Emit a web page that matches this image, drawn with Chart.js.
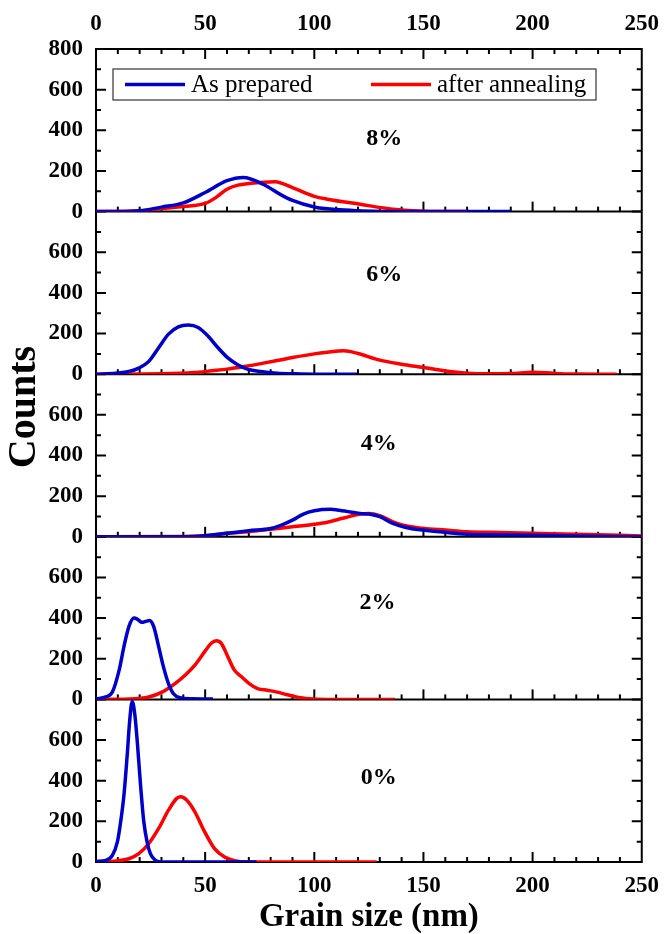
<!DOCTYPE html>
<html>
<head>
<meta charset="utf-8">
<script src="https://cdn.jsdelivr.net/npm/chart.js@4.4.1/dist/chart.umd.min.js"></script>
<style>
  body { margin: 0; background: #fff; }
  canvas { display: block; }
</style>
</head>
<body>
<canvas id="grainChart" width="670" height="934"></canvas>
<script>
// panels top to bottom
const panelNames = ['8%', '6%', '4%', '2%', '0%'];
const seriesNames = ['As prepared', 'after annealing'];

// 8%
const prep8X = [0, 10, 20, 30, 40, 50, 60, 67.5, 77, 85, 90, 100, 110, 120, 130, 140, 160, 190];
const prep8Y = [0, 0, 4, 22, 43, 94, 152, 168, 132, 81, 55, 23, 10, 4, 1, 0, 0, 0];
const ann8X = [0, 20, 30, 40, 50, 55, 60, 65, 70, 82, 90, 100, 106, 121, 136, 150, 170];
const ann8Y = [0, 3, 15, 25, 40, 70, 110, 130, 138, 147, 118, 75, 61, 36, 12, 2, 0];

// 6%
const prep6X = [0, 9, 15.1, 19.6, 24.2, 28.7, 33.2, 37.7, 42.3, 46.8, 51.3, 55.9, 60.4, 64.9, 69.4, 75.5, 83, 90.6, 100, 119.6];
const prep6Y = [0, 5, 13, 30, 63, 130, 197, 233, 242, 230, 188, 130, 80, 47, 25, 13, 5, 2, 0, 0];
const ann6X = [0, 30, 45, 53, 60, 68, 75.5, 83, 90.6, 100, 106, 113.5, 120, 130, 140, 150, 160, 170, 180, 190, 200, 210, 220, 238.5];
const ann6Y = [0, 2, 8, 17, 25, 38, 52, 67, 83, 100, 108, 115, 102, 69, 49, 33, 16, 5, 2, 3, 10, 4, 1, 0];

// 4%
const prep4X = [0, 40, 50, 60, 70, 80, 85, 90, 95, 100, 107.5, 110.5, 121, 125, 130, 136, 142, 150, 160, 170, 180, 200, 220, 235, 250];
const prep4Y = [0, 0, 5, 17, 30, 41, 58, 82, 112, 128, 135, 132, 115, 112, 99, 66, 46, 33, 22, 13, 10, 8, 4, 1, 0];
const ann4X = [0, 40, 50, 60, 70, 80, 90, 100, 106, 113, 121, 125, 130, 136, 142, 150, 160, 170, 180, 200, 220, 250];
const ann4Y = [0, 1, 5, 17, 25, 37, 49, 62, 72, 91, 112, 115, 104, 74, 54, 41, 33, 25, 22, 17, 13, 4];

// 2%
const prep2X = [0, 4.5, 7.5, 10.6, 12.8, 15.1, 17.4, 18.9, 21.1, 22.6, 24.5, 26.4, 28.7, 30.9, 33.2, 35.5, 38.5, 43.8, 53.6];
const prep2Y = [3, 12, 36, 144, 260, 359, 400, 395, 379, 383, 388, 359, 260, 160, 78, 28, 8, 3, 2];
const ann2X = [0, 15.1, 24.2, 30.2, 36.2, 40.8, 45.3, 49.8, 52.8, 55.1, 57.4, 60.4, 63.4, 66.4, 70.2, 74, 78.5, 83, 87.6, 93.6, 99.6, 108.7, 137];
const ann2Y = [0, 2, 12, 36, 78, 119, 169, 235, 276, 289, 276, 210, 144, 114, 78, 53, 45, 36, 23, 8, 2, 0, 0];

// 0%
const prep0X = [0, 4.5, 7.5, 9.8, 11.3, 12.8, 14.3, 15.4, 16.6, 17.8, 18.9, 20.4, 21.9, 23.4, 24.9, 27.2, 30.2, 73.5];
const prep0Y = [3, 8, 33, 99, 198, 329, 527, 691, 790, 724, 593, 379, 198, 99, 41, 8, 0, 0];
const ann0X = [0, 9.1, 15.1, 19.6, 24.2, 28.7, 33.2, 37, 38.9, 41.5, 45.3, 49.8, 54.3, 58.9, 63.4, 69.4, 128.6];
const ann0Y = [0, 5, 16, 41, 91, 165, 255, 313, 321, 305, 247, 148, 66, 25, 7, 0, 0];

// where the "8%" etc. labels sit, in data units
const panelLabelX = [132, 132, 129.5, 129, 129.5];
const panelLabelY = [360, 490, 458, 474, 413];

const xTickValues = [0, 50, 100, 150, 200, 250];
const yTickValues = [0, 200, 400, 600, 800];

const prepared = [[prep8X, prep8Y], [prep6X, prep6Y], [prep4X, prep4Y], [prep2X, prep2Y], [prep0X, prep0Y]];
const annealed = [[ann8X, ann8Y], [ann6X, ann6Y], [ann4X, ann4Y], [ann2X, ann2Y], [ann0X, ann0Y]];

const BLUE = '#0000cc';
const RED = '#ff0000';
const SERIF = "'Liberation Serif', 'Times New Roman', serif";

const panelIds = ['y8', 'y6', 'y4', 'y2', 'y0'];

function toPoints(pair) {
  return pair[0].map((x, i) => ({ x: x, y: pair[1][i] }));
}

const datasets = [];
panelIds.forEach((id, i) => {
  datasets.push({
    label: seriesNames[0], data: toPoints(prepared[i]), yAxisID: id,
    borderColor: BLUE, borderWidth: 3.5, pointRadius: 0, fill: false,
    cubicInterpolationMode: 'monotone'
  });
  datasets.push({
    label: seriesNames[1], data: toPoints(annealed[i]), yAxisID: id,
    borderColor: RED, borderWidth: 3.5, pointRadius: 0, fill: false,
    cubicInterpolationMode: 'monotone'
  });
});

const tickFont = { family: SERIF, size: 23, weight: 'bold', lineHeight: 1.2 };

function xScale(pos) {
  return {
    type: 'linear', position: pos, min: 0, max: 250,
    afterBuildTicks: s => { s.ticks = xTickValues.map(v => ({ value: v })); },
    ticks: { font: tickFont, color: '#000', padding: pos === 'top' ? 11 : 10, maxRotation: 0, autoSkip: false },
    grid: { display: false, drawTicks: false },
    border: { display: false },
    title: pos === 'bottom' ? {
      display: true, text: 'Grain size (nm)', color: '#000',
      font: { family: SERIF, size: 33, weight: 'bold', lineHeight: 1 },
      padding: { top: 0, bottom: 0 }
    } : { display: false },
    afterFit: s => { s.height = pos === 'top' ? 49 : 72; }
  };
}

const scales = { x: xScale('bottom'), x2: xScale('top') };
// stacked left axes: the one defined last ends up on top, so go bottom-up
panelIds.slice().reverse().forEach(id => {
  const i = panelIds.indexOf(id);
  scales[id] = {
    type: 'linear', position: 'left', stack: 'panels', stackWeight: 1,
    min: 0, max: 800,
    afterBuildTicks: s => { s.ticks = yTickValues.map(v => ({ value: v })); },
    ticks: {
      font: tickFont, color: '#000', padding: 13, autoSkip: false,
      callback: v => (v === 800 && i !== 0) ? '' : v
    },
    grid: { display: false, drawTicks: false },
    border: { display: false },
    afterFit: s => { s.width = 96; }
  };
});

// frame, inward ticks, panel labels, legend, y title
const decorations = {
  id: 'decorations',
  beforeDatasetsDraw(chart) {
    const { ctx, chartArea: ca, scales: sc } = chart;
    ctx.save();
    ctx.strokeStyle = '#000';
    ctx.lineWidth = 2;
    ctx.strokeRect(ca.left, ca.top, ca.right - ca.left, ca.bottom - ca.top);
    panelIds.forEach(id => {
      const s = sc[id];
      const y0 = s.getPixelForValue(0);
      ctx.beginPath();
      ctx.moveTo(ca.left, y0); ctx.lineTo(ca.right, y0);
      ctx.stroke();
      for (let v = 0; v < 800; v += 100) {
        const py = s.getPixelForValue(v);
        const len = v % 200 === 0 ? 10 : 5;
        ctx.beginPath();
        ctx.moveTo(ca.left, py); ctx.lineTo(ca.left + len, py);
        ctx.moveTo(ca.right, py); ctx.lineTo(ca.right - len, py);
        ctx.stroke();
      }
      for (let v = 10; v < 250; v += 10) {
        const px = sc.x.getPixelForValue(v);
        const len = v % 50 === 0 ? 10 : 5;
        ctx.beginPath();
        ctx.moveTo(px, y0); ctx.lineTo(px, y0 - len);
        ctx.stroke();
      }
    });
    for (let v = 10; v < 250; v += 10) {
      const px = sc.x.getPixelForValue(v);
      const len = v % 50 === 0 ? 10 : 5;
      ctx.beginPath();
      ctx.moveTo(px, ca.top); ctx.lineTo(px, ca.top + len);
      ctx.stroke();
    }
    ctx.restore();
  },
  afterDraw(chart) {
    const { ctx, chartArea: ca, scales: sc } = chart;
    ctx.save();
    ctx.fillStyle = '#000';
    ctx.textAlign = 'center';
    ctx.textBaseline = 'middle';
    ctx.font = "bold 24px " + SERIF;
    panelIds.forEach((id, i) => {
      ctx.fillText(panelNames[i], sc.x.getPixelForValue(panelLabelX[i]), sc[id].getPixelForValue(panelLabelY[i]));
    });

    // y axis title
    ctx.save();
    ctx.translate(25, 407);
    ctx.rotate(-Math.PI / 2);
    ctx.font = "bold 40px " + SERIF;
    ctx.fillText('Counts', 0, 0);
    ctx.restore();

    // legend box inside the top panel
    const lx = ca.left + 17, ly = ca.top + 20, lw = 483, lh = 31;
    ctx.strokeStyle = '#333';
    ctx.lineWidth = 1.2;
    ctx.strokeRect(lx, ly, lw, lh);
    const cy = ly + lh / 2;
    ctx.font = "25px " + SERIF;
    ctx.textAlign = 'left';
    [[12, BLUE], [258, RED]].forEach((e, k) => {
      ctx.strokeStyle = e[1];
      ctx.lineWidth = 3.5;
      ctx.beginPath();
      ctx.moveTo(lx + e[0], cy); ctx.lineTo(lx + e[0] + 60, cy);
      ctx.stroke();
      ctx.fillText(seriesNames[k], lx + e[0] + 66, cy + 1);
    });
    ctx.restore();
  }
};

new Chart(document.getElementById('grainChart'), {
  type: 'line',
  data: { datasets: datasets },
  options: {
    responsive: false,
    animation: false,
    devicePixelRatio: 1,
    layout: { padding: { left: 0, right: 22, top: 0, bottom: 0 } },
    plugins: { legend: { display: false }, tooltip: { enabled: false } },
    scales: scales
  },
  plugins: [decorations]
});
</script>
</body>
</html>
